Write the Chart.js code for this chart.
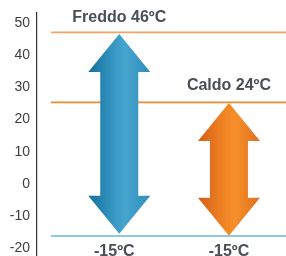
<!DOCTYPE html>
<html>
<head>
<meta charset="utf-8">
<script src="https://cdn.jsdelivr.net/npm/chart.js@4.4.0/dist/chart.umd.min.js"></script>
<style>
  html, body { margin: 0; padding: 0; background: #fff; }
  #wrap { width: 286px; height: 256px; position: relative; }
</style>
</head>
<body>
<div id="wrap"><canvas id="tempChart"></canvas></div>
<script>
// valori
const categories = ['Freddo', 'Caldo'];
const arrowHigh = [46.5, 25.1];
const arrowLow = [-15.4, -16];
const highLabels = ['Freddo 46ºC', 'Caldo 24ºC'];
const lowLabels = ['-15ºC', '-15ºC'];
const levelValues = [47, 25.3, -16.1];
const levelColors = ['#f5a466', '#f08a2c', '#67b7d9'];
const yTicks = [-20, -10, 0, 10, 20, 30, 40, 50];

const arrowColors = [
    ['#12719b', '#3b9bc6', '#46a4ce', '#2e8dba'],
    ['#d35f19', '#f28624', '#f68f2a', '#df6f1e']
];

const lineStart = 0.378;
const xMin = 0.25;
const xMax = 2.52;

const arrowsPlugin = {
    id: 'arrows',
    afterDatasetsDraw(chart) {
        const ctx = chart.ctx;
        const x = chart.scales.x;
        const y = chart.scales.y;
        const shaftW = 38, headW = 62, headH = 38;

        categories.forEach(function(cat, i) {
            const cx = x.getPixelForValue(i + 1);
            const top = y.getPixelForValue(arrowHigh[i]);
            const bot = y.getPixelForValue(arrowLow[i]);

            const g = ctx.createLinearGradient(cx - headW / 2, 0, cx + headW / 2, 0);
            const c = arrowColors[i];
            g.addColorStop(0, c[0]);
            g.addColorStop(0.45, c[1]);
            g.addColorStop(0.6, c[2]);
            g.addColorStop(1, c[3]);

            ctx.save();
            ctx.beginPath();
            ctx.moveTo(cx, top);
            ctx.lineTo(cx + headW / 2, top + headH);
            ctx.lineTo(cx + shaftW / 2, top + headH);
            ctx.lineTo(cx + shaftW / 2, bot - headH);
            ctx.lineTo(cx + headW / 2, bot - headH);
            ctx.lineTo(cx, bot);
            ctx.lineTo(cx - headW / 2, bot - headH);
            ctx.lineTo(cx - shaftW / 2, bot - headH);
            ctx.lineTo(cx - shaftW / 2, top + headH);
            ctx.lineTo(cx - headW / 2, top + headH);
            ctx.closePath();
            ctx.fillStyle = g;
            ctx.fill();
            ctx.restore();
        });
    },
    afterDraw(chart) {
        const ctx = chart.ctx;
        const x = chart.scales.x;
        const y = chart.scales.y;
        const highOffsets = [15, 17];
        const lowShift = [-5, 0];

        ctx.save();
        ctx.font = 'bold 16px "Liberation Sans", Arial, sans-serif';
        ctx.fillStyle = '#4a4e55';
        ctx.textAlign = 'center';
        ctx.textBaseline = 'middle';
        categories.forEach(function(cat, i) {
            const cx = x.getPixelForValue(i + 1);
            ctx.fillText(highLabels[i], cx, y.getPixelForValue(levelValues[i]) - highOffsets[i]);
            ctx.fillText(lowLabels[i], cx + lowShift[i], y.getPixelForValue(levelValues[2]) + 16);
        });
        ctx.restore();
    }
};

document.addEventListener('DOMContentLoaded', function() {
    const canvas = document.getElementById('tempChart');
    const ctx = canvas.getContext('2d');

    const datasets = levelValues.map(function(v, i) {
        return {
            data: [{ x: lineStart, y: v }, { x: xMax, y: v }],
            borderColor: levelColors[i],
            borderWidth: 1.6,
            pointRadius: 0,
            fill: false
        };
    });

    new Chart(ctx, {
        type: 'line',
        data: { datasets: datasets },
        plugins: [arrowsPlugin],
        options: {
            responsive: true,
            maintainAspectRatio: false,
            animation: false,
            layout: { padding: { top: 13, right: 0, bottom: 0, left: 0 } },
            plugins: {
                legend: { display: false },
                tooltip: { enabled: false }
            },
            scales: {
                x: {
                    type: 'linear',
                    min: xMin,
                    max: xMax,
                    display: false
                },
                y: {
                    min: -22.3,
                    max: 53,
                    afterBuildTicks: function(scale) {
                        scale.ticks = yTicks.map(function(v) { return { value: v }; });
                    },
                    afterFit: function(scale) {
                        scale.width = 37;
                        scale.paddingTop = 0;
                        scale.paddingBottom = 0;
                    },
                    ticks: {
                        color: '#3d3d3d',
                        padding: 7,
                        font: { family: '"Liberation Sans", Arial, sans-serif', size: 14 }
                    },
                    grid: {
                        drawOnChartArea: false,
                        drawTicks: false,
                        color: 'rgba(0,0,0,0)'
                    },
                    border: { display: true, color: '#333333', width: 1.2 }
                }
            }
        }
    });
});
</script>
</body>
</html>
